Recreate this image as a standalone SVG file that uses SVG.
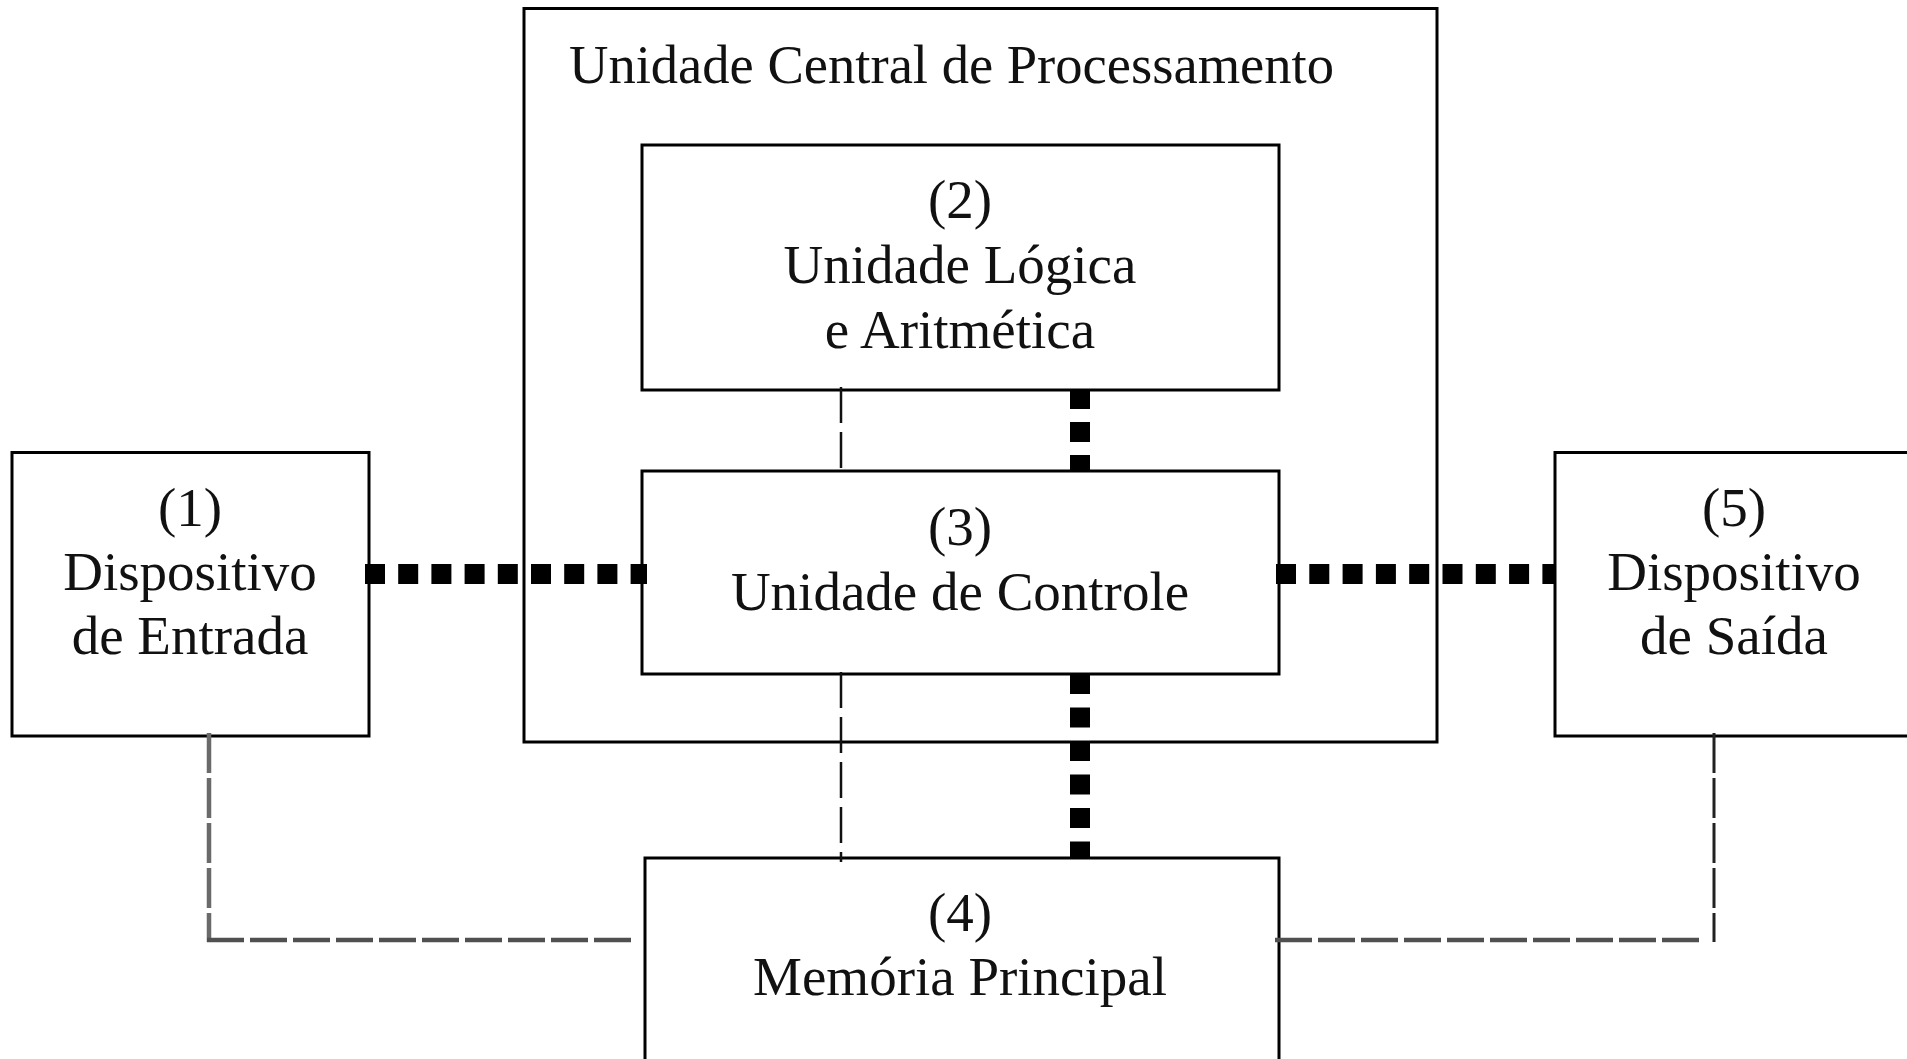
<svg xmlns="http://www.w3.org/2000/svg" width="1907" height="1059" viewBox="0 0 1907 1059">
<style>
.box{fill:#fff;stroke:#000;stroke-width:3}
.t{font-family:"Liberation Serif","Times New Roman",serif;font-size:55px;fill:#111;text-anchor:middle}
.bus{stroke:#000;stroke-width:20;fill:none}
.thin{stroke:#111;stroke-width:2.5;stroke-dasharray:36 9;fill:none}
.gray{stroke:#6a6a6a;stroke-width:4.5;fill:none}
</style>
<rect x="0" y="0" width="1907" height="1059" fill="#fff"/>
<g id="cpu">
<rect class="box" x="524" y="8.5" width="913" height="733.5"/>
<text class="t" x="569" y="83" style="text-anchor:start" textLength="765" lengthAdjust="spacingAndGlyphs">Unidade Central de Processamento</text>
</g>
<g id="alu">
<rect class="box" x="642" y="145" width="637" height="245"/>
<text class="t" x="960" y="218">(2)</text>
<text class="t" x="960" y="283">Unidade Lógica</text>
<text class="t" x="960" y="348">e Aritmética</text>
</g>
<g id="cu">
<rect class="box" x="642" y="471" width="637" height="203"/>
<text class="t" x="960" y="545">(3)</text>
<text class="t" x="960" y="610">Unidade de Controle</text>
</g>
<g id="input">
<rect class="box" x="12" y="452.5" width="357" height="283.5"/>
<text class="t" x="190" y="526">(1)</text>
<text class="t" x="190" y="590">Dispositivo</text>
<text class="t" x="190" y="654">de Entrada</text>
</g>
<g id="output">
<rect class="box" x="1555" y="452.5" width="358" height="283.5"/>
<text class="t" x="1734" y="526">(5)</text>
<text class="t" x="1734" y="590">Dispositivo</text>
<text class="t" x="1734" y="654">de Saída</text>
</g>
<g id="memory">
<rect class="box" x="645" y="858" width="634" height="220"/>
<text class="t" x="960" y="931">(4)</text>
<text class="t" x="960" y="995">Memória Principal</text>
</g>
<g id="connectors">
<line class="bus" x1="365" y1="574" x2="647" y2="574" stroke-dasharray="20 13.2"/>
<line class="bus" x1="1276" y1="574" x2="1556" y2="574" stroke-dasharray="20 13.3"/>
<line class="bus" x1="1080" y1="389" x2="1080" y2="471" stroke-dasharray="20 13"/>
<line class="bus" x1="1080" y1="674" x2="1080" y2="858" stroke-dasharray="20 13.5"/>
<line class="thin" x1="841" y1="387" x2="841" y2="471"/>
<line class="thin" x1="841" y1="672" x2="841" y2="862"/>
<line class="gray" x1="209" y1="733" x2="209" y2="942" stroke-dasharray="40 5"/>
<line class="gray" x1="207" y1="940" x2="635" y2="940" stroke-dasharray="37 6" style="stroke:#505050"/>
<line class="gray" x1="1714" y1="733" x2="1714" y2="942" stroke-dasharray="40 5" style="stroke:#222;stroke-width:3"/>
<line class="gray" x1="1275" y1="940" x2="1703" y2="940" stroke-dasharray="37 6" style="stroke:#505050"/>
</g>
</svg>
